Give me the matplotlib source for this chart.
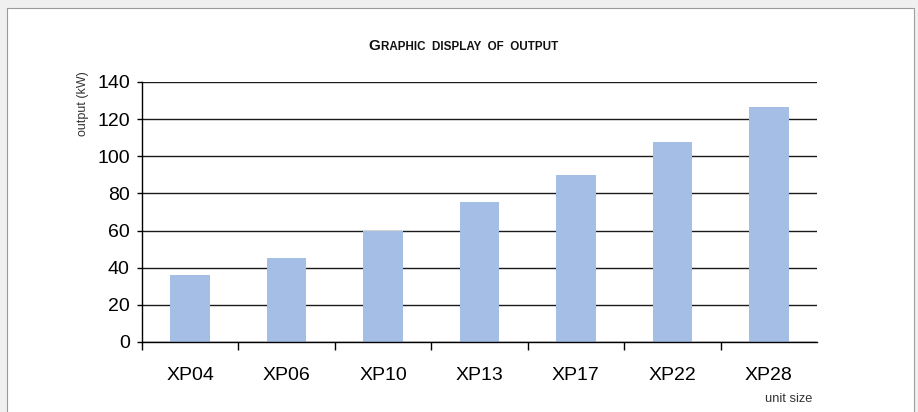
import matplotlib.pyplot as plt
from matplotlib.patches import Rectangle
import numpy as np

# data
units = ['XP04', 'XP06', 'XP10', 'XP13', 'XP17', 'XP22', 'XP28']
output_kw = [36, 45.5, 60, 75.5, 90, 107.5, 126.5]
yticks = [0, 20, 40, 60, 80, 100, 120, 140]

W, H = 918, 412
fig = plt.figure(figsize=(W / 100, H / 100), dpi=100, facecolor='#f0f0f0')

# white page panel with grey border (runs off the bottom edge)
fig.patches.append(Rectangle((7 / W, -5 / H), 907 / W, 409 / H, transform=fig.transFigure,
                             facecolor='white', edgecolor='#9a9a9a', lw=0.8, zorder=-5))
fig.patches.append(Rectangle((913.5 / W, -5 / H), 1.8 / W, 409 / H, transform=fig.transFigure,
                             facecolor='#a0a0a0', edgecolor='none', zorder=-4))

ax = fig.add_axes([142 / W, (H - 342) / H, 675 / W, 260 / H])
ax.set_facecolor('none')

x = np.arange(len(units))
ax.bar(x, output_kw, width=0.41, color='#a4bee5', zorder=2)

ax.set_xlim(-0.5, len(units) - 0.5)
ax.set_ylim(0, 140)
ax.set_yticks(yticks)
ax.yaxis.grid(True, color='#1a1a1a', lw=1.0, zorder=1)
ax.set_axisbelow(True)

for s in ['top', 'right']:
    ax.spines[s].set_visible(False)
ax.spines['left'].set_color('black')
ax.spines['bottom'].set_color('black')
ax.spines['left'].set_linewidth(1.0)
ax.spines['bottom'].set_linewidth(1.0)

tickfont = ['Liberation Sans Narrow', 'Liberation Sans']
# category boundary ticks (no labels), labels on minor ticks at bar centres
ax.set_xticks(np.arange(-0.5, len(units) - 1, 1.0))
ax.set_xticklabels([])
ax.tick_params(axis='x', which='major', length=5.5, width=1.0, direction='out', color='black')
ax.set_xticks(x, minor=True)
ax.set_xticklabels(units, minor=True, fontsize=14, family=tickfont)
ax.tick_params(axis='x', which='minor', length=0, pad=18)
ax.tick_params(axis='y', length=3.8, width=1.0, pad=5, color='black')
for lbl in ax.get_yticklabels():
    lbl.set_fontsize(14)
    lbl.set_family(tickfont)

# title in small caps
g = fig.text(368 / W, (H - 50) / H, 'G', fontsize=11, fontweight='bold',
             family=tickfont, color='#111111', va='baseline', ha='left')
ax.annotate('RAPHIC  DISPLAY  OF  OUTPUT', xy=(1, 0), xycoords=g, xytext=(1, 0),
            textcoords='offset points', fontsize=8.4, fontweight='bold',
            family=tickfont, color='#111111', va='bottom', ha='left',
            annotation_clip=False)

fig.text(83 / W, (H - 104) / H, 'output (kW)', rotation=90, fontsize=9,
         color='#333333', ha='center', va='center', family='Liberation Sans')
fig.text(812 / W, (H - 399) / H, 'unit size', fontsize=9.3, color='#333333',
         ha='right', va='center', family='Liberation Sans')

fig.savefig('out.png', dpi=100, facecolor=fig.get_facecolor())
